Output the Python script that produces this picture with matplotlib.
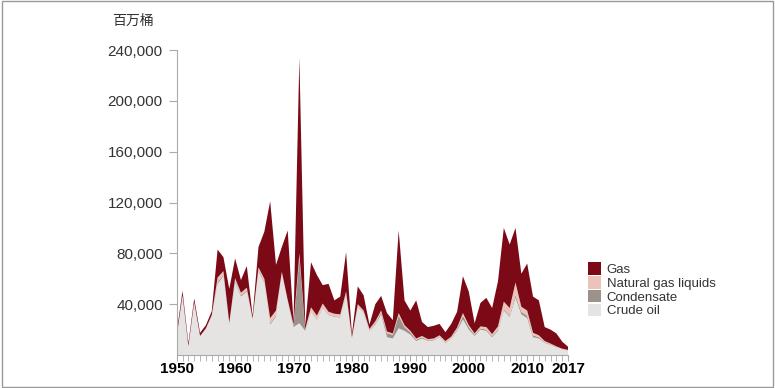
import matplotlib
matplotlib.use("Agg")
import matplotlib.pyplot as plt
from matplotlib.patches import Patch, Rectangle
import numpy as np

plt.rcParams['font.family'] = ['Liberation Sans', 'Noto Sans CJK SC', 'DejaVu Sans']

# discovered volumes, thousand million barrels
years = list(range(1950, 2018))
crude = [15, 46.5, 7, 41, 15, 20.5, 30.5, 56, 62, 24,
         57, 46, 50, 28, 66, 57, 24, 30, 64, 42,
         22, 25, 19, 34, 27.5, 37, 31.5, 30, 29.5, 47,
         13, 38, 33, 19, 24, 32, 14, 13, 21, 19,
         16, 11, 13, 11, 11.5, 14, 9.5, 13, 19, 28,
         20, 15, 20, 19, 14, 19, 35, 30, 45, 32,
         29, 14, 13, 9.5, 8, 6, 4.5, 3.5]
condensate = [0, 0, 0, 0, 0, 0, 0.5, 1.5, 1, 0.5,
              1, 1, 1, 0.3, 1, 1, 1, 1, 0.5, 0.5,
              1, 52, 1, 0.5, 0.5, 0.5, 0.5, 0.5, 0.5, 1,
              0.5, 0.5, 0.5, 0.5, 1, 1.5, 3, 3, 10, 3,
              2, 1, 1, 0.5, 0.5, 0.5, 0.5, 0.5, 1, 3,
              2, 1, 1, 1, 1, 1, 1, 1, 2, 2,
              2, 1.5, 1, 0.5, 0.5, 0.3, 0.2, 0.2]
ngl = [0, 0.5, 0, 0.5, 0, 0.5, 0.5, 3.5, 3, 1,
       2.5, 2, 2, 0.5, 2, 2, 4, 4, 1, 1,
       1, 3, 0.5, 3, 3, 3, 2, 2, 2, 2,
       0.5, 1.5, 1.5, 1, 1.5, 1.5, 1.5, 1, 2, 1.5,
       1, 1, 1, 1, 1, 1, 1, 1, 1.5, 2,
       1.5, 1, 1.5, 2, 1.5, 2.5, 6, 6, 10, 4,
       4, 2, 1.5, 1, 0.5, 0.5, 0.3, 0.3]
gas = [3, 3.5, 2.5, 3, 2.5, 2.5, 3, 22, 11, 26.5,
       15.5, 10, 17, 2, 16, 37, 92, 36, 19.5, 54.5,
       2.5, 154, 2.5, 35.5, 32, 14.5, 22, 10.5, 14, 31,
       2.5, 14, 12, 3.5, 13.5, 11.5, 14.5, 10.5, 65, 19.5,
       16, 30, 11, 9.5, 10, 9, 7, 10, 12.5, 29,
       26.5, 8, 18.5, 23, 20.5, 35.5, 58, 50, 43, 26,
       37, 28.5, 27.5, 11, 11, 10.2, 5.5, 2.5]

labels = ['Crude oil', 'Condensate', 'Natural gas liquids', 'Gas']
colors = ['#e6e4e3', '#9d918b', '#ebc3b9', '#7b0a16']

fig = plt.figure(figsize=(7.75, 3.88), dpi=100)
ax = fig.add_axes([0.228, 0.085, 0.505, 0.786])

series = [np.array(s) * 1000 for s in (crude, condensate, ngl, gas)]
ax.stackplot(years, *series, colors=colors, linewidth=0)

ax.set_xlim(1950, 2017)
ax.set_ylim(0, 240000)
yt = [40000, 80000, 120000, 160000, 200000, 240000]
ax.set_yticks(yt)
ax.set_yticklabels(['{:,}'.format(v) for v in yt], fontsize=11, color='#333333')
xt = [1950, 1960, 1970, 1980, 1990, 2000, 2010, 2017]
ax.set_xticks(xt)
ax.set_xticklabels([str(v) for v in xt], fontsize=11, fontweight='bold', color='black')
ax.set_xticks(years, minor=True)
ax.tick_params(axis='x', which='both', length=4, color='#aaaaaa', pad=1)
ax.tick_params(axis='y', length=6, color='#aaaaaa', pad=4)

for s in ['top', 'right']:
    ax.spines[s].set_visible(False)
for s in ['left', 'bottom']:
    ax.spines[s].set_color('#aaaaaa')
    ax.spines[s].set_linewidth(0.8)

fig.text(0.145, 0.935, '百万桶', fontsize=10, color='#333333',
         family=['Noto Sans CJK SC', 'DejaVu Sans'])

handles = [Patch(facecolor=c, edgecolor='none') for c in colors[::-1]]
ax.legend(handles, labels[::-1], loc='upper left', bbox_to_anchor=(1.038, 0.322),
          frameon=False, fontsize=9.5, handlelength=1.0, handleheight=1.1,
          handletextpad=0.4, labelspacing=0.0, borderaxespad=0, labelcolor='#333333')

fig.patches.append(Rectangle((0.002, 0.003), 0.996, 0.994, transform=fig.transFigure,
                             fill=False, edgecolor='#999999', linewidth=1))

fig.savefig('out.png', dpi=100)
